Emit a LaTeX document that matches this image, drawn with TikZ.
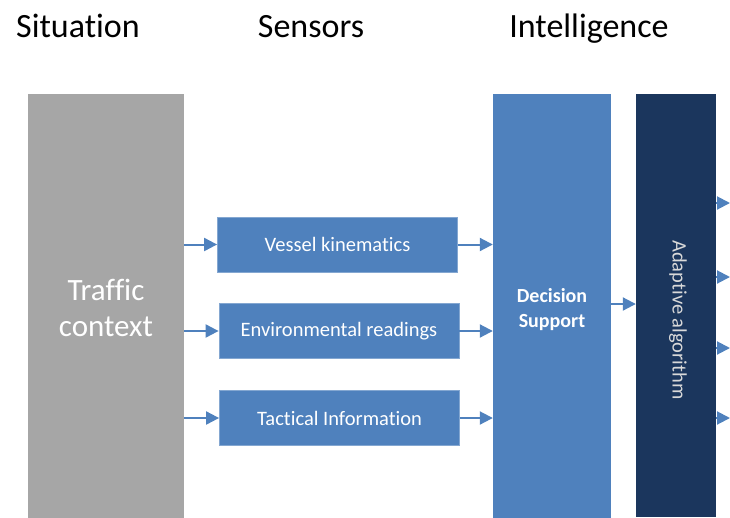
\documentclass[tikz,border=0pt]{standalone}
\usepackage{fontspec}
\setmainfont[Ligatures=NoCommon]{Carlito}
\usetikzlibrary{arrows.meta}
\definecolor{sitgray}{HTML}{A6A6A6}
\definecolor{senblue}{HTML}{4F81BD}
\definecolor{algblue}{HTML}{1B365D}

\begin{document}
\begin{tikzpicture}[x=1pt,y=-1pt,
  head/.style={anchor=base,font=\fontsize{34}{38}\selectfont},
  sensor/.style={fill=senblue,draw=senblue!70!white,line width=0.8pt,text=white,minimum width=240,minimum height=55,font=\fontsize{20.5}{24}\selectfont},
  column/.style={inner sep=0pt},
  flow/.style={-{Triangle[length=13pt,width=13pt]},senblue,line width=2pt}]
\useasboundingbox (0,0) rectangle (730,517);
\node[head] (hsit) at (78,37) {Situation};
\node[head] (hsen) at (311,37) {Sensors};
\node[head] (hint) at (589,37) {Intelligence};
\node[column,fill=sitgray,minimum width=156,minimum height=428,text=white,align=center,
  font=\fontsize{31}{36}\selectfont] (traffic) at (106,308) {Traffic\\context};
\node[sensor] (vessel) at (337.5,244.5) {Vessel kinematics};
\node[sensor] (env) at (339,331) {Environmental readings};
\node[sensor] (tac) at (339.5,418) {Tactical Information};
\node[column,fill=senblue,minimum width=118,minimum height=431,text=white,align=center,
  font=\fontsize{20}{25}\bfseries\selectfont] (dec) at (552,309.5) {Decision\\Support};
\node[column,fill=algblue,minimum width=80,minimum height=423] (adapt) at (676,305.5) {};
\node[rotate=-90,text=white!85!black,font=\fontsize{20.5}{24}\selectfont] (adapttxt) at (678,320) {Adaptive algorithm};
\foreach \s in {vessel,env,tac}{
  \draw[flow] (traffic.east |- \s) -- (\s);
  \draw[flow] (\s) -- (\s -| dec.west);
}
\coordinate (mid) at (620,304);
\draw[flow] (dec.east |- mid) -- (adapt.west |- mid);
\foreach \y [count=\i] in {203,277,348,418}{
  \coordinate (out\i) at (730,\y);
  \draw[flow] (adapt.east |- out\i) -- (out\i);
}
\end{tikzpicture}
\end{document}
